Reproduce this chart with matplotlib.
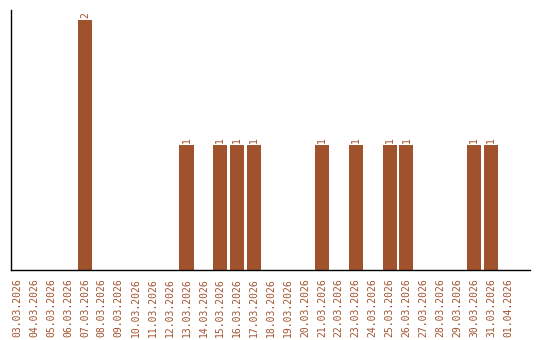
import matplotlib
matplotlib.use("Agg")
import matplotlib.pyplot as plt

dates = ["03.03.2026", "04.03.2026", "05.03.2026", "06.03.2026", "07.03.2026",
         "08.03.2026", "09.03.2026", "10.03.2026", "11.03.2026", "12.03.2026",
         "13.03.2026", "14.03.2026", "15.03.2026", "16.03.2026", "17.03.2026",
         "18.03.2026", "19.03.2026", "20.03.2026", "21.03.2026", "22.03.2026",
         "23.03.2026", "24.03.2026", "25.03.2026", "26.03.2026", "27.03.2026",
         "28.03.2026", "29.03.2026", "30.03.2026", "31.03.2026", "01.04.2026"]
counts = [0, 0, 0, 0, 2, 0, 0, 0, 0, 0,
          1, 0, 1, 1, 1, 0, 0, 0, 1, 0,
          1, 0, 1, 1, 0, 0, 0, 1, 1, 0]

color = "#a0522d"
fig = plt.figure(figsize=(5.4, 3.4), dpi=100)
ax = fig.add_axes([11/540, 70/340, 519/540, 260/340])
x = list(range(len(dates)))
ax.bar(x, counts, width=0.83, color=color)
for xi, c in zip(x, counts):
    if c > 0:
        ax.text(xi, c + 0.015, str(c), rotation=90, ha="center", va="bottom",
                color=color, fontsize=7, family="DejaVu Sans Mono")
ax.set_xlim(-0.37, 30.3)
ax.set_ylim(0, 2.08)
ax.set_xticks(x)
ax.set_xticklabels(dates, rotation=90, color=color, fontsize=7, family="DejaVu Sans Mono")
ax.tick_params(axis="x", length=0, pad=6)
ax.set_yticks([])
for s in ["top", "right"]:
    ax.spines[s].set_visible(False)
for s in ["left", "bottom"]:
    ax.spines[s].set_linewidth(1)
fig.savefig("out.png", dpi=100)
